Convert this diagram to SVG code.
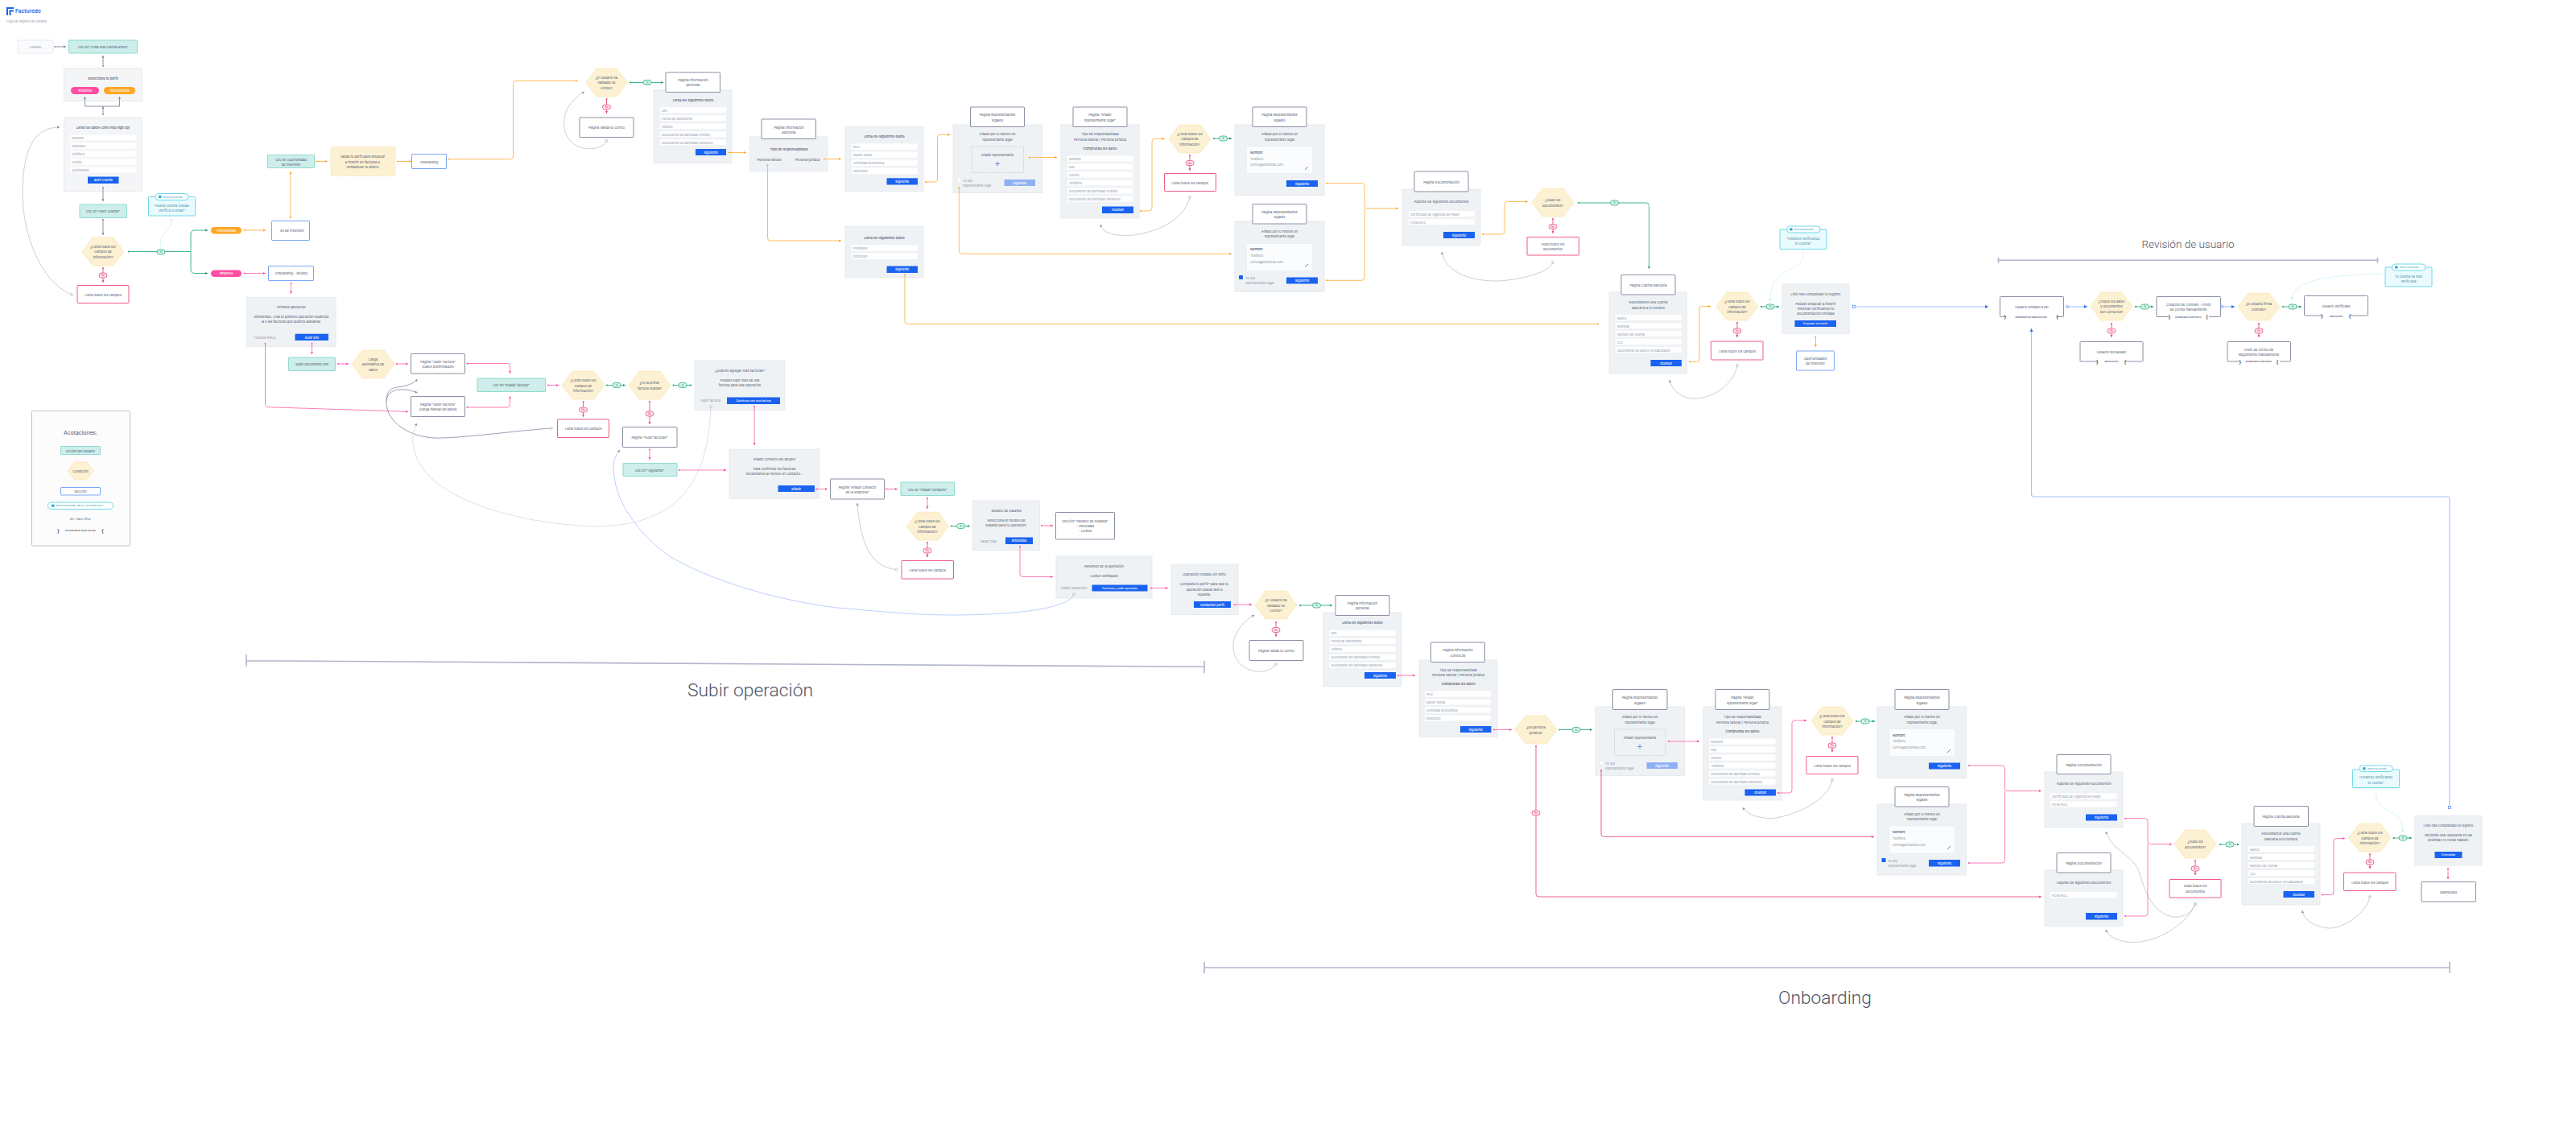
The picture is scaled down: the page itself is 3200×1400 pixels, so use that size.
<svg xmlns="http://www.w3.org/2000/svg" width="3200" height="1400" viewBox="0 0 3200 1400">
<style>
text{font-family:"Inter","Liberation Sans",sans-serif;font-size:4.1px;fill:#4c5369;text-anchor:middle;dominant-baseline:central}
.l{text-anchor:start}
.b{font-weight:500}
.f{text-anchor:start;fill:#8d93a5;font-size:3.9px}
.g{fill:#8d93a5}
.w{fill:#fff;font-size:3.9px;font-weight:500}
.st{font-size:2.7px;font-weight:600;fill:#4c5369}
.br{font-size:6px;font-weight:700;fill:#4c5369}
.big{font-family:"Roboto","Liberation Sans",sans-serif;font-weight:300;fill:#4c5369}
.s{font-size:2.7px;font-weight:600;fill:#3aa0b8;letter-spacing:.35px;text-anchor:start}
.nt{fill:#4a8a9c}
.py{font-size:3.4px;fill:#d8336b}
.pg{font-size:3.4px;fill:#1f9e6e}
.act{fill:#cdeeea;stroke:#8edbcf;stroke-width:1}
.hex{fill:#fdf1d3;stroke:#f9dc92;stroke-width:.7;stroke-dasharray:1.2 .8}
.pan{fill:#eff2f5;stroke:#e3e7ec;stroke-width:.8}
.dp{fill:#f4f5f7;stroke:#c6c9d0;stroke-width:.6;stroke-dasharray:1.4 1}
.in{fill:#fff;stroke:none}
.btn{fill:#1a63f0}
.dis{fill:#8fb0f4}
.sec{fill:#fff;stroke:#7aa5f5;stroke-width:1}
.pag{fill:#fff;stroke:#8b90a3;stroke-width:1}
.err{fill:#fff;stroke:#ee5a85;stroke-width:1}
.ntf{fill:#e9fbfe;stroke:#5fd5e8;stroke-width:.9}
.tag{fill:#fff;stroke:#5fd5e8;stroke-width:.9}
.ico{fill:#2fb3cf}
.dsh{fill:none;stroke:#b6bac6;stroke-width:.6;stroke-dasharray:1.6 1.2}
.card{fill:#fbfcfd;stroke:#e6e9ee;stroke-width:.5}
.gap{fill:#fff;stroke:none}
.cn{fill:none;stroke-linejoin:round}
.cg{stroke:#8b93a8;stroke-width:1;marker-start:url(#dg);marker-end:url(#ag)}
.cp{stroke:#ff6db0;stroke-width:.9;marker-start:url(#dp);marker-end:url(#ap)}
.co{stroke:#ffb347;stroke-width:.9;marker-start:url(#do);marker-end:url(#ao)}
.cv{stroke:#2eb07e;stroke-width:.9;marker-start:url(#dv);marker-end:url(#av)}
.cr{stroke:#e8507f;stroke-width:.9;marker-start:url(#dr);marker-end:url(#ar)}
.cb{stroke:#a9c4fb;stroke-width:1.2;marker-end:url(#ab)}
.cu{stroke:#a8aebf;stroke-width:.6;marker-start:url(#bu);marker-end:url(#ag)}
.cd{stroke:#8fe0ee;stroke-width:.6;stroke-dasharray:1.4 1;marker-end:url(#al)}
.pv{fill:#d8f5e8;stroke:#2eb07e;stroke-width:.8}
.pr{fill:#ffe6ef;stroke:#e8507f;stroke-width:.8}
.rule{fill:none;stroke:#b0b6ca;stroke-width:1.6}
</style>
<defs>
<marker id="dg" markerUnits="userSpaceOnUse" markerWidth="4" markerHeight="4" refX="2" refY="2"><circle cx="2" cy="2" r="1" fill="#8b93a8"/></marker>
<marker id="dp" markerUnits="userSpaceOnUse" markerWidth="4" markerHeight="4" refX="2" refY="2"><circle cx="2" cy="2" r="1" fill="#ff4fa3"/></marker>
<marker id="do" markerUnits="userSpaceOnUse" markerWidth="4" markerHeight="4" refX="2" refY="2"><circle cx="2" cy="2" r="1" fill="#ffa726"/></marker>
<marker id="dv" markerUnits="userSpaceOnUse" markerWidth="4" markerHeight="4" refX="2" refY="2"><circle cx="2" cy="2" r="1" fill="#1f9e6e"/></marker>
<marker id="dr" markerUnits="userSpaceOnUse" markerWidth="4" markerHeight="4" refX="2" refY="2"><circle cx="2" cy="2" r="1" fill="#e8507f"/></marker>
<marker id="bu" markerUnits="userSpaceOnUse" markerWidth="5" markerHeight="5" refX="2.5" refY="2.5"><circle cx="2.5" cy="2.5" r="1.4" fill="#fff" stroke="#8b93a8" stroke-width=".5"/></marker>
<marker id="ag" markerUnits="userSpaceOnUse" markerWidth="4" markerHeight="4" refX="3" refY="2" orient="auto"><path d="M0 .3L3 2L0 3.7Z" fill="#8b93a8"/></marker>
<marker id="ap" markerUnits="userSpaceOnUse" markerWidth="4" markerHeight="4" refX="3" refY="2" orient="auto"><path d="M0 .5L3 2L0 3.5Z" fill="#ff4fa3"/></marker>
<marker id="ao" markerUnits="userSpaceOnUse" markerWidth="4" markerHeight="4" refX="3" refY="2" orient="auto"><path d="M0 .5L3 2L0 3.5Z" fill="#ffa726"/></marker>
<marker id="av" markerUnits="userSpaceOnUse" markerWidth="4" markerHeight="4" refX="3" refY="2" orient="auto"><path d="M0 .5L3 2L0 3.5Z" fill="#1f9e6e"/></marker>
<marker id="ar" markerUnits="userSpaceOnUse" markerWidth="4" markerHeight="4" refX="3" refY="2" orient="auto"><path d="M0 .5L3 2L0 3.5Z" fill="#e8507f"/></marker>
<marker id="ab" markerUnits="userSpaceOnUse" markerWidth="5" markerHeight="5" refX="4" refY="2.5" orient="auto"><path d="M0 .5L4 2.5L0 4.5Z" fill="#2f6ff2"/></marker>
<marker id="al" markerUnits="userSpaceOnUse" markerWidth="4" markerHeight="4" refX="3" refY="2" orient="auto"><path d="M0 .5L3 2L0 3.5Z" fill="none" stroke="#8fe0ee" stroke-width=".4"/></marker>
</defs>
<rect width="3200" height="1400" fill="#fff"/>

<g id="cabecera">
<path d="M8 9H17V11H10V19H8ZM11.500 12.500H17V14.500H13.500V19H11.500Z" fill="#1a63f0"/>
<text x="19" y="14.300" class="l b" style="font-size:6.500px;fill:#1a63f0;font-weight:600">Facturedo</text>
<text x="8" y="26.300" class="l g" style="font-size:3.900px">Flujo de registro de usuario</text>
</g>

<g id="usuario"><rect x="22" y="50" width="44" height="16" rx="1" fill="#fafbfd" stroke="#e8eaf2"/><text x="44" y="58" class="g">Usuario</text></g>
<g id="clic-crear"><rect x="85.500" y="50" width="85" height="16" rx=".6" class="act"/><text x="128" y="58.300">Clic en "Crea una cuenta ahora"</text></g>
<g id="perfil"><rect x="79.500" y="85" width="97" height="40.500" rx=".6" class="dp"/><text x="128" y="97" class="b">Selecciona tu perfil</text>
<rect x="88" y="108" width="35" height="9" rx="4.500" fill="#ff4fa3"/><text x="105.500" y="112.800" class="w">Empresa</text>
<rect x="129" y="108" width="39" height="9" rx="4.500" fill="#ffa726"/><text x="148.500" y="112.800" class="w">Inversionista</text></g>
<g id="datos"><rect x="79.500" y="146" width="97" height="91.500" rx=".6" class="dp"/><text x="128" y="158.500" class="b">Llena tus datos (One step sign up)</text>
<rect x="87" y="167.500" width="82" height="7" class="in"/><text x="89" y="171.200" class="f">Nombre</text>
<rect x="87" y="177.500" width="82" height="7" class="in"/><text x="89" y="181.200" class="f">Apellidos</text>
<rect x="87" y="187.500" width="82" height="7" class="in"/><text x="89" y="191.200" class="f">Teléfono</text>
<rect x="87" y="197.500" width="82" height="7" class="in"/><text x="89" y="201.200" class="f">Correo</text>
<rect x="87" y="207.500" width="82" height="7" class="in"/><text x="89" y="211.200" class="f">Contraseña</text>
<rect x="109" y="219.500" width="38.500" height="8.500" class="btn"/><text x="128.300" y="223.800" class="w">Abrir cuenta</text></g>
<g id="clic-abrir"><rect x="99" y="254" width="58.500" height="16.500" rx=".6" class="act"/><text x="128" y="262.300">Clic en "Abrir cuenta"</text></g>
<g id="h-campos1"><path d="M102 312.500L115 295H141L154 312.500L141 330H115Z" class="hex"/><text x="128" y="306.300">¿Llena todos los</text><text x="128" y="312.800">campos de</text><text x="128" y="319.300">información?</text></g>
<g id="e-campos1"><rect x="96" y="354.500" width="64" height="22" rx=".6" class="err"/><text x="128" y="366">Llena todos los campos</text></g>
<g id="n-nueva"><rect x="184.500" y="244.500" width="58" height="23.500" rx="1" class="ntf"/><rect x="193" y="240.500" width="41" height="8" rx="4" class="tag"/><rect x="197" y="242.800" width="3.600" height="3.200" class="ico"/><text x="203" y="244.500" class="s">NOTIFICACIÓN</text><text x="213.500" y="255" class="nt">"Nueva cuenta creada.</text><text x="213.500" y="261.500" class="nt">Verifica tu email"</text></g>
<g id="p-inv"><rect x="262" y="282" width="38" height="8.500" rx="4.200" fill="#ffa726"/><text x="281" y="286.300" class="w">Inversionista</text></g>
<g id="p-emp"><rect x="262" y="335.500" width="38" height="8.500" rx="4.200" fill="#ff4fa3"/><text x="281" y="339.800" class="w">Empresa</text></g>
<g id="s-inv"><rect x="337.500" y="274.500" width="47" height="24" rx=".6" class="sec"/><text x="363" y="286.300">es de inversión</text></g>
<g id="clic-op"><rect x="332.500" y="192.500" width="58" height="16" rx=".6" class="act"/><text x="361.500" y="198">Clic en Oportunidad</text><text x="361.500" y="204">de inversión</text></g>
<g id="valida"><rect x="411" y="182.500" width="80" height="36" rx="1" fill="#fdf1d3" stroke="#f9dc92" stroke-width=".7" stroke-dasharray="1.200 .8"/><text x="450.500" y="194.500">Valida tu perfil para empezar</text><text x="450.500" y="201">a invertir en facturas y</text><text x="450.500" y="207.500">rentabilizar tu dinero</text></g>
<g id="s-onb"><rect x="511.500" y="191.500" width="43" height="18" rx=".6" class="sec"/><text x="533" y="201">Onboarding</text></g>
<g id="s-wiz"><rect x="333.500" y="330.500" width="56" height="18" rx=".6" class="sec"/><text x="361.500" y="339.800">Onboarding - Wizard</text></g>
<g id="primera"><rect x="306.500" y="369.500" width="110.500" height="61" class="pan"/><text x="362" y="381">Primera operación</text><text x="362" y="393">Bienvenido, crea tu primera operación subiendo</text><text x="362" y="399.300">la o las facturas que quieres adelantar.</text><text x="329" y="419" class="g">Factura física</text><rect x="366.500" y="414.700" width="41.500" height="8.300" class="btn"/><text x="387.300" y="419" class="w">Subir xml</text></g>
<g id="clic-xml"><rect x="358.500" y="444" width="58" height="16.500" rx=".6" class="act"/><text x="387.500" y="452.300">Subir documento xml</text></g>
<g id="h-carga"><path d="M437 452L450 435H477L490 452L477 470H450Z" class="hex"/><text x="463.500" y="446.300">Carga</text><text x="463.500" y="452.800">automática de</text><text x="463.500" y="459">datos</text></g>

<g id="acotaciones"><rect x="39.500" y="510.500" width="122" height="167.500" rx="1" fill="#fcfcfc" stroke="#c0c2c8"/><text x="100" y="537" style="font-size:6.800px">Acotaciones:</text>
<rect x="75.500" y="554.500" width="49" height="10" rx=".6" class="act"/><text x="100" y="560">Acción del usuario</text>
<path d="M84 585L92 574H108L116.500 585L108 595.500H92Z" class="hex"/><text x="100" y="585">Condición</text>
<rect x="75.500" y="605.500" width="49" height="9.500" rx=".6" class="sec"/><text x="100" y="610.500">Sección</text>
<rect x="59.500" y="624" width="81" height="8.500" rx="4.200" class="tag"/><rect x="64" y="626.600" width="3.600" height="3.200" class="ico"/><text x="69.500" y="628.400" class="s">NOTIFICACIÓN / MAIL AUTOMÁTICO</text>
<text x="100" y="644.500" style="font-size:3.200px">BO = Back Office</text>
<text x="72.500" y="659" class="br">}</text><text x="100" y="659" class="st">ESTADO EN EL BACK OFFICE</text><text x="127.500" y="659" class="br">{</text></g>

<g id="h-validado1"><path d="M727.500 102.500L741 85H766L779.500 102.500L766 120H741Z" class="hex"/><text x="753.500" y="96">¿El usuario ha</text><text x="753.500" y="102.500">validado su</text><text x="753.500" y="109">correo?</text></g>
<g id="pg-valida1"><rect x="720" y="146" width="67" height="24.500" rx=".6" class="pag"/><text x="753.500" y="158.500">Página Valida tu correo</text></g>
<g id="pan-personal1"><rect x="812" y="112" width="97" height="90.500" class="pan"/><text x="861" y="124" class="b">Llena los siguientes datos</text>
<rect x="820" y="133.300" width="82" height="7" class="in"/><text x="822" y="137" class="f">DNI</text>
<rect x="820" y="143.300" width="82" height="7" class="in"/><text x="822" y="147" class="f">Fecha de nacimiento</text>
<rect x="820" y="153.300" width="82" height="7" class="in"/><text x="822" y="157" class="f">Género</text>
<rect x="820" y="163.300" width="82" height="7" class="in"/><text x="822" y="167" class="f">Documento de identidad (Frente)</text>
<rect x="820" y="173.300" width="82" height="7" class="in"/><text x="822" y="177" class="f">Documento de identidad (Reverso)</text>
<rect x="864" y="185" width="38" height="8" class="btn"/><text x="883" y="189" class="w">Siguiente</text>
<rect x="827" y="90" width="67.500" height="24.500" rx=".6" class="pag"/><text x="861" y="99">Página Información</text><text x="861" y="105.500">personal</text></g>
<g id="pan-adicional"><rect x="931.500" y="170" width="96.500" height="42.500" class="pan"/><text x="980" y="185" class="b">Tipo de responsabilidad</text><text x="955.500" y="198">Persona natural</text><text x="1003" y="198">Persona jurídica</text>
<rect x="946" y="148" width="67.500" height="24.500" rx=".6" class="pag"/><text x="980" y="158">Página Información</text><text x="980" y="164.500">adicional</text></g>
<g id="pan-ruc1"><rect x="1050" y="157.500" width="97" height="80" class="pan"/><text x="1098.500" y="169" class="b">Llena los siguientes datos</text>
<rect x="1058" y="178.500" width="82" height="7.500" class="in"/><text x="1060" y="182.300" class="f">RUC</text>
<rect x="1058" y="188.500" width="82" height="7.500" class="in"/><text x="1060" y="192.300" class="f">Razón social</text>
<rect x="1058" y="198.500" width="82" height="7.500" class="in"/><text x="1060" y="202.300" class="f">Actividad económica</text>
<rect x="1058" y="208.500" width="82" height="7.500" class="in"/><text x="1060" y="212.200" class="f">Dirección</text>
<rect x="1101.500" y="221.300" width="38.500" height="8.200" class="btn"/><text x="1120.700" y="225.500" class="w">Siguiente</text></g>
<g id="pan-prof"><rect x="1050" y="281.500" width="97" height="63" class="pan"/><text x="1098.500" y="295.500" class="b">Llena los siguientes datos</text>
<rect x="1058" y="304.300" width="82" height="7.500" class="in"/><text x="1060" y="308" class="f">Profesión</text>
<rect x="1058" y="314.300" width="82" height="7.500" class="in"/><text x="1060" y="318" class="f">Dirección</text>
<rect x="1101.500" y="330.500" width="38.500" height="8.500" class="btn"/><text x="1120.700" y="334.700" class="w">Siguiente</text></g>
<g id="pan-rep1"><rect x="1184" y="155" width="110.500" height="84.500" class="pan"/><text x="1239" y="166.500">Añade por lo menos un</text><text x="1239" y="173">representante legal</text>
<rect x="1207" y="182" width="64.500" height="32.500" class="dsh"/><text x="1239" y="192.500">Añadir representante</text><path d="M1239 200.500v6M1236 203.500h6" stroke="#2f6ff2" stroke-width=".7" fill="none"/>
<rect x="1189" y="221.500" width="4.500" height="4.500" rx=".4" fill="#fff" stroke="#dde1e7" stroke-width=".4"/><text x="1196" y="224" class="f">Yo soy</text><text x="1196" y="230.500" class="f">representante legal</text>
<rect x="1247.500" y="223" width="38.500" height="8" class="dis"/><text x="1266.700" y="227" class="w">Siguiente</text>
<rect x="1205.500" y="133" width="67" height="24.500" rx=".6" class="pag"/><text x="1239" y="142.500">Página Representantes</text><text x="1239" y="149">legales</text></g>
<g id="pan-anadir1"><rect x="1318" y="155" width="97" height="116" class="pan"/><text x="1366.500" y="166.500">Tipo de responsabilidad</text><text x="1366.500" y="173">Persona natural | Persona jurídica</text><text x="1366.500" y="184.500" class="b">Comprueba los datos</text>
<rect x="1326" y="193.500" width="81.500" height="7" class="in"/><text x="1328" y="197.300" class="f">Nombre</text>
<rect x="1326" y="203.500" width="81.500" height="7" class="in"/><text x="1328" y="207.300" class="f">DNI</text>
<rect x="1326" y="213.500" width="81.500" height="7" class="in"/><text x="1328" y="217.300" class="f">Correo</text>
<rect x="1326" y="223.500" width="81.500" height="7" class="in"/><text x="1328" y="227.300" class="f">Teléfono</text>
<rect x="1326" y="233.500" width="81.500" height="7" class="in"/><text x="1328" y="237.300" class="f">Documento de identidad (Frente)</text>
<rect x="1326" y="243.500" width="81.500" height="7" class="in"/><text x="1328" y="247.300" class="f">Documento de identidad (Reverso)</text>
<rect x="1369" y="256.500" width="39" height="8.500" class="btn"/><text x="1388.500" y="260.700" class="w">Guardar</text>
<rect x="1333" y="133" width="67" height="24.500" rx=".6" class="pag"/><text x="1366.500" y="142.500">Página "Añadir</text><text x="1366.500" y="149">representante legal"</text></g>
<g id="h-campos2"><path d="M1452 172.500L1465 155H1491L1504 172.500L1491 190H1465Z" class="hex"/><text x="1478" y="166">¿Llena todos los</text><text x="1478" y="172.500">campos de</text><text x="1478" y="179">información?</text></g>
<g id="e-campos2"><rect x="1446.500" y="215.500" width="64" height="22" rx=".6" class="err"/><text x="1478" y="227">Llena todos los campos</text></g>
<g id="pan-repA1"><rect x="1534" y="155" width="111" height="87.500" class="pan"/><text x="1589.500" y="166.500">Añade por lo menos un</text><text x="1589.500" y="173">representante legal</text>
<rect x="1548.500" y="182" width="82" height="33.500" class="card"/><text x="1553" y="189" class="l b">Nombre</text><text x="1553" y="197" class="f">Teléfono</text><text x="1553" y="204.500" class="f">correo@empresa.com</text><path d="M1621 211L1625 207" stroke="#6d7488" stroke-width=".9"/>
<rect x="1598" y="224" width="39" height="8" class="btn"/><text x="1617.500" y="228" class="w">Siguiente</text>
<rect x="1556" y="133" width="67" height="24.500" rx=".6" class="pag"/><text x="1589.500" y="142.500">Página Representantes</text><text x="1589.500" y="149">legales</text></g>
<g id="pan-repB1"><rect x="1534" y="275" width="111" height="87.500" class="pan"/><text x="1589.500" y="287.500">Añade por lo menos un</text><text x="1589.500" y="293.500">representante legal</text>
<rect x="1548.500" y="302.500" width="82" height="33.500" class="card"/><text x="1553" y="309.500" class="l b">Nombre</text><text x="1553" y="317.500" class="f">Teléfono</text><text x="1553" y="325" class="f">correo@empresa.com</text><path d="M1621 332L1625 328" stroke="#6d7488" stroke-width=".9"/>
<rect x="1539" y="342" width="5" height="5" rx=".4" fill="#1a63f0"/><text x="1547" y="345" class="f">Yo soy</text><text x="1547" y="351.500" class="f">representante legal</text>
<rect x="1598" y="344.500" width="39" height="8" class="btn"/><text x="1617.500" y="348.500" class="w">Siguiente</text>
<rect x="1556" y="253.500" width="67" height="24.500" rx=".6" class="pag"/><text x="1589.500" y="263">Página Representantes</text><text x="1589.500" y="269.500">legales</text></g>
<g id="pan-doc1"><rect x="1742" y="235" width="97" height="69.500" class="pan"/><text x="1790.500" y="250">Adjunta los siguientes documentos</text>
<rect x="1750" y="262.200" width="81.500" height="7" class="in"/><text x="1752" y="266" class="f">Certificado de Vigencia de Poder</text>
<rect x="1750" y="272.200" width="81.500" height="7" class="in"/><text x="1752" y="276" class="f">Ficha RUC</text>
<rect x="1793" y="288" width="39" height="8" class="btn"/><text x="1812.500" y="292" class="w">Siguiente</text>
<rect x="1757" y="213" width="67" height="25" rx=".6" class="pag"/><text x="1790.500" y="226">Página Documentación</text></g>
<g id="h-sube1"><path d="M1903 251.500L1916 234H1942L1955 251.500L1942 269H1916Z" class="hex"/><text x="1929" y="248">¿Sube los</text><text x="1929" y="255">documentos?</text></g>
<g id="e-sube1"><rect x="1897" y="294.500" width="64.500" height="22.500" rx=".6" class="err"/><text x="1929" y="303">Sube todos los</text><text x="1929" y="309.500">documentos</text></g>
<g id="pan-banco1"><rect x="1999" y="363" width="96.500" height="100.500" class="pan"/><text x="2047.500" y="375.500">Necesitamos una cuenta</text><text x="2047.500" y="382">bancaria a tu nombre</text>
<rect x="2007" y="391" width="82" height="7" class="in"/><text x="2009" y="395" class="f">Banco</text>
<rect x="2007" y="401" width="82" height="7" class="in"/><text x="2009" y="405" class="f">Moneda</text>
<rect x="2007" y="411" width="82" height="7" class="in"/><text x="2009" y="415" class="f">Número de cuenta</text>
<rect x="2007" y="421" width="82" height="7" class="in"/><text x="2009" y="425" class="f">CCI</text>
<rect x="2007" y="431" width="82" height="7" class="in"/><text x="2009" y="435" class="f">Documento de banco (Encabezado)</text>
<rect x="2050.500" y="447" width="38.500" height="8" class="btn"/><text x="2069.700" y="451" class="w">Guardar</text>
<rect x="2014" y="341.500" width="67" height="24.500" rx=".6" class="pag"/><text x="2047.500" y="354.300">Página Cuenta bancaria</text></g>
<g id="h-campos3"><path d="M2132 380.500L2145 363H2171L2184 380.500L2171 398H2145Z" class="hex"/><text x="2158" y="374.500">¿Llena todos los</text><text x="2158" y="381">campos de</text><text x="2158" y="387.500">información?</text></g>
<g id="e-campos3"><rect x="2125.500" y="424" width="64.500" height="23" rx=".6" class="err"/><text x="2158" y="436">Llena todos los campos</text></g>
<g id="n-verif1"><rect x="2211" y="285" width="58" height="24.500" rx="1" class="ntf"/><rect x="2219.500" y="281" width="41.500" height="8" rx="4" class="tag"/><rect x="2223" y="283.300" width="3.600" height="3.200" class="ico"/><text x="2229" y="285" class="s">NOTIFICACIÓN</text><text x="2240" y="296" class="nt">"Estamos verificando</text><text x="2240" y="302.500" class="nt">tu cuenta"</text></g>
<g id="pan-listo1"><rect x="2214" y="353" width="83" height="61.500" class="pan"/><text x="2255.500" y="365">Listo has completado tu registro</text><text x="2255.500" y="377">Puedes empezar a invertir</text><text x="2255.500" y="383">mientras verificamos tu</text><text x="2255.500" y="389.500">documentación enviada</text><rect x="2229.500" y="398" width="51.500" height="8" class="btn"/><text x="2255.200" y="402" class="w" style="font-size:3.500px">Empezar a invertir</text></g>
<g id="s-oport"><rect x="2231.500" y="436" width="47" height="24" rx=".6" class="sec"/><text x="2255" y="445">Oportunidades</text><text x="2255" y="451.500">de inversión</text></g>

<g id="rev-enviado"><rect x="2484.500" y="368.500" width="79" height="25" rx=".8" class="pag"/><rect x="2492" y="390" width="63" height="6" class="gap"/><text x="2524" y="381">Usuario enviado a BD</text><text x="2491" y="393.500" class="br">}</text><text x="2523" y="393.500" class="st">PENDIENTE DE VERIFICACIÓN</text><text x="2555.500" y="393.500" class="br">{</text></g>
<g id="h-todos"><path d="M2597 380.500L2610 363H2636L2649 380.500L2636 398H2610Z" class="hex"/><text x="2623" y="374">¿Todos los datos</text><text x="2623" y="380.500">y documentos</text><text x="2623" y="387">son correctos?</text></g>
<g id="rev-contrato"><rect x="2679" y="368.500" width="79.500" height="25" rx=".8" class="pag"/><rect x="2694" y="390" width="50" height="6" class="gap"/><text x="2718.500" y="378.500">Creación de contrato - Envió</text><text x="2718.500" y="384.300">de correo manualmente</text><text x="2695" y="393.500" class="br">}</text><text x="2718.500" y="393.500" class="st">ESPERANDO CONTRATO</text><text x="2741.500" y="393.500" class="br">{</text></g>
<g id="h-firma"><path d="M2780 381L2793 364H2819L2832 381L2819 398H2793Z" class="hex"/><text x="2806" y="377.500">¿El usuario firma</text><text x="2806" y="384.500">contrato?</text></g>
<g id="rev-verificado"><rect x="2862.500" y="367.500" width="79" height="24.500" rx=".8" class="pag"/><rect x="2885" y="389" width="34" height="6" class="gap"/><text x="2902" y="380">Usuario verificado</text><text x="2884.500" y="392.500" class="br">}</text><text x="2902" y="392.500" class="st">VERIFICADO</text><text x="2919" y="392.500" class="br">{</text></g>
<g id="rev-rechazado"><rect x="2584" y="424.500" width="78" height="24.500" rx=".8" class="pag"/><rect x="2606" y="446" width="34" height="6" class="gap"/><text x="2623" y="437">Usuario rechazado</text><text x="2605.500" y="449" class="br">}</text><text x="2623" y="449" class="st">RECHAZADO</text><text x="2640" y="449" class="br">{</text></g>
<g id="rev-seguimiento"><rect x="2767" y="424.500" width="78.500" height="24.500" rx=".8" class="pag"/><rect x="2782" y="446" width="50" height="6" class="gap"/><text x="2806" y="434">Envió de correo de</text><text x="2806" y="440">seguimiento manualmente</text><text x="2783" y="449" class="br">}</text><text x="2806" y="449" class="st">ESPERANDO CONTRATO</text><text x="2829" y="449" class="br">{</text></g>
<g id="n-verificado"><rect x="2963" y="332" width="58" height="24" rx="1" class="ntf"/><rect x="2971.500" y="328" width="41.500" height="8" rx="4" class="tag"/><rect x="2975" y="330.300" width="3.600" height="3.200" class="ico"/><text x="2981" y="332" class="s">NOTIFICACIÓN</text><text x="2992" y="343" class="nt">Tu cuenta ha sido</text><text x="2992" y="349" class="nt">verificada</text></g>

<g id="pg-fact1"><rect x="510.500" y="439.500" width="67" height="24.500" rx=".6" class="pag"/><text x="544" y="449.500">Página "Subir Factura"</text><text x="544" y="455.500">(Datos preliminados)</text></g>
<g id="pg-fact2"><rect x="510.500" y="492.500" width="67" height="25" rx=".6" class="pag"/><text x="544" y="502">Página "Subir Factura"</text><text x="544" y="508.500">(Carga manual de datos)</text></g>
<g id="clic-factura"><rect x="593" y="470" width="84.500" height="16.500" rx=".6" class="act"/><text x="635" y="478.500">Clic en "Añadir factura"</text></g>
<g id="h-campos4"><path d="M698 478.500L711 461H738L751 478.500L738 496H711Z" class="hex"/><text x="724.500" y="472.300">¿Llena todos los</text><text x="724.500" y="479">campos de</text><text x="724.500" y="485.500">información?</text></g>
<g id="e-campos4"><rect x="692.500" y="521" width="64" height="22.500" rx=".6" class="err"/><text x="724.500" y="532.500">Llena todos los campos</text></g>
<g id="h-primer"><path d="M781 478.500L794 461H820L833 478.500L820 496H794Z" class="hex"/><text x="807" y="475.300">¿Es la primer</text><text x="807" y="482">factura subida?</text></g>
<g id="pg-facts"><rect x="773.500" y="530.500" width="67.500" height="25" rx=".6" class="pag"/><text x="807" y="543.300">Página "Subir facturas"</text></g>
<g id="clic-sig"><rect x="774" y="575.500" width="67" height="16" rx=".6" class="act"/><text x="807" y="584">Clic en "Siguiente"</text></g>
<g id="pan-mas"><rect x="863" y="448" width="112" height="61.500" class="pan"/><text x="919" y="460">¿Quieres agregar más facturas?</text><text x="919" y="472">Puedes subir más de una</text><text x="919" y="478">factura para una operación</text><text x="882.500" y="497.500" class="g">Subir factura</text><rect x="903" y="493.500" width="66" height="8.500" class="btn"/><text x="936" y="497.800" class="w" style="font-size:3.500px">Continuar con una factura</text></g>
<g id="pan-contacto"><rect x="906" y="558" width="111.500" height="61.500" class="pan"/><text x="962" y="570">Añadir contacto del deudor</text><text x="962" y="582">Para confirmar tus facturas</text><text x="962" y="588">necesitamos al menos un contacto...</text><rect x="966.500" y="603" width="45.500" height="8" class="btn"/><text x="989" y="607" class="w">Añadir</text></g>
<g id="pg-contacto"><rect x="1031.500" y="595" width="67" height="25" rx=".6" class="pag"/><text x="1065" y="605">Página "Añadir contacto</text><text x="1065" y="611">de la empresa"</text></g>
<g id="clic-contacto"><rect x="1119" y="599" width="66.500" height="16.500" rx=".6" class="act"/><text x="1152" y="608">Clic en "Añadir contacto"</text></g>
<g id="h-campos5"><path d="M1126.500 653.500L1139.500 636H1165.500L1178.500 653.500L1165.500 671H1139.500Z" class="hex"/><text x="1152" y="647.500">¿Llena todos los</text><text x="1152" y="654">campos de</text><text x="1152" y="660.300">información?</text></g>
<g id="e-campos5"><rect x="1120" y="696.500" width="64.500" height="22.500" rx=".6" class="err"/><text x="1152" y="708">Llena todos los campos</text></g>
<g id="pan-modelo"><rect x="1208.500" y="622" width="83" height="61.500" class="pan"/><text x="1250" y="634">Modelo de subasta</text><text x="1250" y="646">Selecciona el modelo de</text><text x="1250" y="652.300">subasta para tu operación.</text><text x="1228" y="672" class="g">Saber más</text><rect x="1249" y="667.500" width="34" height="8.500" class="btn"/><text x="1266" y="671.800" class="w">Entendido</text></g>
<g id="s-modelo"><rect x="1311.500" y="636.500" width="73" height="33.500" rx=".8" class="pag"/><text x="1348" y="647">Sección "Modelo de subasta"</text><text x="1348" y="653.500">- Velocidad</text><text x="1348" y="659.500">- Costos</text></g>
<g id="pan-resumen"><rect x="1312" y="691" width="119" height="52" class="pan"/><text x="1371.500" y="703">Resumen de la operación</text><text x="1371.500" y="715">Costos estimados</text><text x="1334" y="730.500" class="g">Editar operación</text><rect x="1356.500" y="726.500" width="69" height="8" class="btn"/><text x="1391" y="730.500" class="w" style="font-size:3.300px">Confirmar y subir operación</text></g>
<g id="pan-exito"><rect x="1455" y="701" width="83" height="62.500" class="pan"/><text x="1496" y="713.500">Operación creada con éxito</text><text x="1496" y="725.500">Completa tu perfil" para que tu</text><text x="1496" y="732">operación pueda salir a</text><text x="1496" y="738">subasta.</text><rect x="1483" y="747" width="46" height="8" class="btn"/><text x="1506" y="751" class="w">Completar perfil</text></g>
<g id="h-validado2"><path d="M1559 751.500L1572 734H1598L1611 751.500L1598 769H1572Z" class="hex"/><text x="1585" y="745.500">¿El usuario ha</text><text x="1585" y="752">validado su</text><text x="1585" y="758.500">correo?</text></g>
<g id="pg-valida2"><rect x="1552" y="795.500" width="67" height="25" rx=".6" class="pag"/><text x="1585.500" y="808.300">Página Valida tu correo</text></g>
<g id="pan-personal2"><rect x="1644" y="761" width="97" height="91.500" class="pan"/><text x="1692.500" y="773" class="b">Llena los siguientes datos</text>
<rect x="1651.500" y="782.800" width="82" height="7" class="in"/><text x="1653.500" y="786.500" class="f">DNI</text>
<rect x="1651.500" y="792.800" width="82" height="7" class="in"/><text x="1653.500" y="796.500" class="f">Fecha de nacimiento</text>
<rect x="1651.500" y="802.800" width="82" height="7" class="in"/><text x="1653.500" y="806.500" class="f">Género</text>
<rect x="1651.500" y="812.800" width="82" height="7" class="in"/><text x="1653.500" y="816.500" class="f">Documento de identidad (Frente)</text>
<rect x="1651.500" y="822.800" width="82" height="7" class="in"/><text x="1653.500" y="826.500" class="f">Documento de identidad (Reverso)</text>
<rect x="1695" y="835" width="39" height="8" class="btn"/><text x="1714.500" y="839" class="w">Siguiente</text>
<rect x="1659" y="739.500" width="67" height="25" rx=".6" class="pag"/><text x="1692.500" y="749">Página Información</text><text x="1692.500" y="755.300">personal</text></g>
<g id="pan-comercial"><rect x="1763" y="820" width="97" height="95.500" class="pan"/><text x="1811.500" y="832">Tipo de responsabilidad</text><text x="1811.500" y="838.300">Persona natural | Persona jurídica</text><text x="1811.500" y="849.300" class="b">Comprueba los datos</text>
<rect x="1770" y="858.500" width="82" height="7" class="in"/><text x="1772" y="862.300" class="f">RUC</text>
<rect x="1770" y="868.500" width="82" height="7" class="in"/><text x="1772" y="872.300" class="f">Razón social</text>
<rect x="1770" y="878.500" width="82" height="7" class="in"/><text x="1772" y="882.300" class="f">Actividad económica</text>
<rect x="1770" y="888.500" width="82" height="7" class="in"/><text x="1772" y="892.300" class="f">Dirección</text>
<rect x="1814" y="902" width="38.500" height="8" class="btn"/><text x="1833.300" y="906" class="w">Siguiente</text>
<rect x="1777.500" y="798" width="67" height="24.500" rx=".6" class="pag"/><text x="1811" y="807.500">Página Información</text><text x="1811" y="814">comercial</text></g>
<g id="h-juridica"><path d="M1882 906.500L1895 889H1921L1934 906.500L1921 924H1895Z" class="hex"/><text x="1908" y="903.300">¿Es persona</text><text x="1908" y="910">jurídica?</text></g>
<g id="pan-rep2"><rect x="1982" y="878" width="110.500" height="85.500" class="pan"/><text x="2037" y="890.500">Añade por lo menos un</text><text x="2037" y="897">representante legal</text>
<rect x="2005.500" y="906" width="63.500" height="32.500" class="dsh"/><text x="2037" y="916.500">Añadir representante</text><path d="M2037 924.500v6M2034 927.500h6" stroke="#2f6ff2" stroke-width=".7" fill="none"/>
<rect x="1987" y="945.500" width="4.500" height="4.500" rx=".4" fill="#fff" stroke="#dde1e7" stroke-width=".4"/><text x="1994" y="948" class="f">Yo soy</text><text x="1994" y="954.500" class="f">representante legal</text>
<rect x="2045.500" y="947" width="38.500" height="8" class="dis"/><text x="2064.700" y="951" class="w">Siguiente</text>
<rect x="2003.500" y="856.500" width="67.500" height="25" rx=".6" class="pag"/><text x="2037" y="866.300">Página Representantes</text><text x="2037" y="873">legales</text></g>
<g id="pan-anadir2"><rect x="2116" y="878" width="97" height="116" class="pan"/><text x="2164.500" y="890.500">Tipo de responsabilidad</text><text x="2164.500" y="897">Persona natural | Persona jurídica</text><text x="2164.500" y="908.300" class="b">Comprueba los datos</text>
<rect x="2123.500" y="917.500" width="82" height="7" class="in"/><text x="2125.500" y="921.300" class="f">Nombre</text>
<rect x="2123.500" y="927.500" width="82" height="7" class="in"/><text x="2125.500" y="931.300" class="f">DNI</text>
<rect x="2123.500" y="937.500" width="82" height="7" class="in"/><text x="2125.500" y="941.300" class="f">Correo</text>
<rect x="2123.500" y="947.500" width="82" height="7" class="in"/><text x="2125.500" y="951.300" class="f">Teléfono</text>
<rect x="2123.500" y="957.500" width="82" height="7" class="in"/><text x="2125.500" y="961.300" class="f">Documento de identidad (Frente)</text>
<rect x="2123.500" y="967.500" width="82" height="7" class="in"/><text x="2125.500" y="971.300" class="f">Documento de identidad (Reverso)</text>
<rect x="2167.500" y="980.500" width="38.500" height="8" class="btn"/><text x="2186.700" y="984.500" class="w">Guardar</text>
<rect x="2131" y="856.500" width="67" height="25" rx=".6" class="pag"/><text x="2164.500" y="866.300">Página "Añadir</text><text x="2164.500" y="873">representante legal"</text></g>
<g id="h-campos6"><path d="M2250 895.500L2263 878H2289L2302 895.500L2289 913H2263Z" class="hex"/><text x="2276" y="889.500">¿Llena todos los</text><text x="2276" y="896">campos de</text><text x="2276" y="902.300">información?</text></g>
<g id="e-campos6"><rect x="2244" y="939.500" width="64" height="22" rx=".6" class="err"/><text x="2276" y="951">Llena todos los campos</text></g>
<g id="pan-repA2"><rect x="2332" y="878" width="110.500" height="88.500" class="pan"/><text x="2387.500" y="890.500">Añade por lo menos un</text><text x="2387.500" y="897">representante legal</text>
<rect x="2347" y="905.500" width="81.500" height="34" class="card"/><text x="2351" y="913" class="l b">Nombre</text><text x="2351" y="920.500" class="f">Teléfono</text><text x="2351" y="928.500" class="f">correo@empresa.com</text><path d="M2419 935L2423 931" stroke="#6d7488" stroke-width=".9"/>
<rect x="2396" y="947.500" width="39" height="8" class="btn"/><text x="2415.500" y="951.500" class="w">Siguiente</text>
<rect x="2354" y="856.500" width="67" height="25" rx=".6" class="pag"/><text x="2387.500" y="866.300">Página Representantes</text><text x="2387.500" y="873">legales</text></g>
<g id="pan-repB2"><rect x="2332" y="999" width="110.500" height="88" class="pan"/><text x="2387.500" y="1011">Añade por lo menos un</text><text x="2387.500" y="1017.500">representante legal</text>
<rect x="2347" y="1026" width="81.500" height="34" class="card"/><text x="2351" y="1033.500" class="l b">Nombre</text><text x="2351" y="1041" class="f">Teléfono</text><text x="2351" y="1049" class="f">correo@empresa.com</text><path d="M2419 1055L2423 1051" stroke="#6d7488" stroke-width=".9"/>
<rect x="2337.500" y="1066" width="5" height="5" rx=".4" fill="#1a63f0"/><text x="2345" y="1069" class="f">Yo soy</text><text x="2345" y="1075.500" class="f">representante legal</text>
<rect x="2396" y="1068" width="39" height="8.500" class="btn"/><text x="2415.500" y="1072.200" class="w">Siguiente</text>
<rect x="2354" y="977.500" width="67" height="24.500" rx=".6" class="pag"/><text x="2387.500" y="987">Página Representantes</text><text x="2387.500" y="993.500">legales</text></g>
<g id="pan-doc2"><rect x="2540" y="959" width="97" height="69" class="pan"/><text x="2588.500" y="973.500">Adjunta los siguientes documentos</text>
<rect x="2547" y="985.500" width="82.500" height="7" class="in"/><text x="2549" y="989.500" class="f">Certificado de Vigencia de Poder</text>
<rect x="2547" y="995.500" width="82.500" height="7" class="in"/><text x="2549" y="999.500" class="f">Ficha RUC</text>
<rect x="2591" y="1011.500" width="39" height="8" class="btn"/><text x="2610.500" y="1015.500" class="w">Siguiente</text>
<rect x="2555" y="937.500" width="67" height="24" rx=".6" class="pag"/><text x="2588.500" y="950">Página Documentación</text></g>
<g id="pan-doc3"><rect x="2540" y="1081" width="97" height="69.500" class="pan"/><text x="2588.500" y="1096">Adjunta los siguientes documentos</text>
<rect x="2547" y="1108" width="82.500" height="7.500" class="in"/><text x="2549" y="1112" class="f">Ficha RUC</text>
<rect x="2591" y="1134" width="39" height="8.500" class="btn"/><text x="2610.500" y="1138.200" class="w">Siguiente</text>
<rect x="2555" y="1059.500" width="67" height="24.500" rx=".6" class="pag"/><text x="2588.500" y="1072">Página Documentación</text></g>
<g id="h-sube2"><path d="M2701 1048.500L2714 1031H2740L2753 1048.500L2740 1066H2714Z" class="hex"/><text x="2727" y="1045">¿Sube los</text><text x="2727" y="1052">documentos?</text></g>
<g id="e-sube2"><rect x="2695" y="1092.500" width="64" height="22.500" rx=".6" class="err"/><text x="2727" y="1100.500">Sube todos los</text><text x="2727" y="1107">documentos</text></g>
<g id="pan-banco2"><rect x="2785" y="1023" width="97" height="101" class="pan"/><text x="2833.500" y="1035.500">Necesitamos una cuenta</text><text x="2833.500" y="1042">bancaria a tu nombre</text>
<rect x="2793" y="1051" width="82" height="7" class="in"/><text x="2795" y="1055" class="f">Banco</text>
<rect x="2793" y="1061" width="82" height="7" class="in"/><text x="2795" y="1065" class="f">Moneda</text>
<rect x="2793" y="1071" width="82" height="7" class="in"/><text x="2795" y="1075" class="f">Número de cuenta</text>
<rect x="2793" y="1081" width="82" height="7" class="in"/><text x="2795" y="1085" class="f">CCI</text>
<rect x="2793" y="1091" width="82" height="7" class="in"/><text x="2795" y="1095" class="f">Documento de banco (Encabezado)</text>
<rect x="2836.500" y="1107" width="38.500" height="8" class="btn"/><text x="2855.700" y="1111" class="w">Guardar</text>
<rect x="2800" y="1001.500" width="67.500" height="25" rx=".6" class="pag"/><text x="2833.500" y="1014.300">Página Cuenta bancaria</text></g>
<g id="h-campos7"><path d="M2917.500 1040.500L2931 1023H2957L2970 1040.500L2957 1058H2931Z" class="hex"/><text x="2944" y="1034.500">¿Llena todos los</text><text x="2944" y="1041">campos de</text><text x="2944" y="1047.500">información?</text></g>
<g id="e-campos7"><rect x="2911.500" y="1084" width="64.500" height="22.500" rx=".6" class="err"/><text x="2944" y="1096">Llena todos los campos</text></g>
<g id="n-verif2"><rect x="2922.500" y="956" width="58" height="22.500" rx="1" class="ntf"/><rect x="2931" y="951" width="41" height="7.500" rx="3.700" class="tag"/><rect x="2935" y="953.200" width="3.600" height="3.200" class="ico"/><text x="2941" y="954.800" class="s">NOTIFICACIÓN</text><text x="2951.500" y="965.500" class="nt">"Estamos verificando</text><text x="2951.500" y="972" class="nt">tu cuenta"</text></g>
<g id="pan-listo2"><rect x="3000" y="1013.500" width="83" height="61.500" class="pan"/><text x="3041.500" y="1025">Listo has completado tu registro</text><text x="3041.500" y="1037">Recibirás una respuesta en las</text><text x="3041.500" y="1043">próximas 12 horas hábiles.</text><rect x="3024.500" y="1058" width="34" height="8" class="btn"/><text x="3041.500" y="1062" class="w" style="font-size:3.500px">Entendido</text></g>
<g id="s-dash"><rect x="3008" y="1095.500" width="67.500" height="24.500" rx=".6" class="pag"/><text x="3041.500" y="1108">Dashboard</text></g>

<g id="etapas">
<path d="M306 813V828M306 820.700L1496 828.300M1496 821V836" class="rule"/>
<text x="932" y="857" class="big" style="font-size:22.800px">Subir operación</text>
<path d="M2482.500 320V327M2482.500 323.300H2953.500M2953.500 320V327" class="rule"/>
<text x="2718" y="302.700" class="big" style="font-size:13.500px">Revisión de usuario</text>
<path d="M1496 1195V1209M1496 1202H3043M3043 1195V1209" class="rule"/>
<text x="2267" y="1239" class="big" style="font-size:22.800px">Onboarding</text>
</g>

<g id="conectores">
<path class="cn cg" d="M68 58H82"/>
<path class="cn cg" d="M128 82V69"/>
<path class="cn cg" d="M128 142V132"/>
<path class="cn cg" d="M128 132H105.500V120" style="marker-start:none"/>
<path class="cn cg" d="M128 132H148.500V120" style="marker-start:none"/>
<path class="cn cg" d="M128 233V250"/>
<path class="cn cg" d="M128 273V292"/>
<path class="cn cr" d="M128 333V351"/>
<path class="cn cu" d="M89 366C50 350 28 290 28 240C28 190 40 158 74 158"/>
<path class="cn cv" d="M160 312.500H237V291Q237 286 242 286H258"/>
<path class="cn cv" d="M237 312.500V334.500Q237 339.500 242 339.500H258" style="marker-start:none"/>
<path class="cn cd" d="M199 307C199 285 213 290 213 272"/>
<path class="cn co" d="M304 286H330"/>
<path class="cn cp" d="M304 339.500H330"/>
<path class="cn co" d="M361 270V213"/>
<path class="cn co" d="M393 200.500H407"/>
<path class="cn co" d="M494 200.500H511"/>
<path class="cn co" d="M558 197.700H634Q637.500 197.700 637.500 194V104Q637.500 100.300 641 100.300H717.500"/>
<path class="cn cp" d="M361.500 352V365"/>
<path class="cn cp" d="M387.500 427V440"/>
<path class="cn cp" d="M420 452H433"/>
<path class="cn cp" d="M493 452H507"/>
<path class="cn cp" d="M329.500 427V502Q329.500 505.700 333 505.700L507 511.400"/>
<path class="cn cp" d="M580.500 451.500H630Q633.500 451.500 633.500 455V464"/>
<path class="cn cp" d="M580.500 506H630Q633.500 506 633.500 502.500V492"/>
<path class="cn cp" d="M681 478.500H694"/>
<path class="cn cr" d="M724.500 499V518"/>
<path class="cn cv" d="M754 478.500H777"/>
<path class="cn cv" d="M836.500 478.500H859.500"/>
<path class="cn cr" d="M807 499V527"/>
<path class="cn cp" d="M807 558.500V571"/>
<path class="cn cp" d="M844 584H902"/>
<path class="cn cp" d="M937 505V553"/>
<path class="cn cp" d="M1014 607.500H1028"/>
<path class="cn cp" d="M1101 607.500H1115"/>
<path class="cn cp" d="M1152 619V632"/>
<path class="cn cr" d="M1152 674V692"/>
<path class="cn cv" d="M1182 653.500H1205"/>
<path class="cn cp" d="M1294 653H1308"/>
<path class="cn cp" d="M1267 679V713Q1267 716.500 1270.500 716.500H1308"/>
<path class="cn cp" d="M1430 730.500H1451"/>
<path class="cn cp" d="M1533.500 751H1555"/>
<path class="cn cu" d="M685 532C640 535 570 545 540 544C510 543 480 525 480 500C480 480 490 482 500 480C510 478 515 475 518.500 471" style="stroke:#7f88a0;stroke-width:.8"/>
<path class="cn cu" d="M480 498C482 480 505 482 518.500 488" style="stroke:#7f88a0;stroke-width:.8;marker-start:none"/>
<path class="cn cu" d="M883 505C880 590 850 654 737 654C640 650 540 620 518 570C510 550 512 535 518 526" style="stroke:#c8ccd6"/>
<path class="cn cu" d="M1334 738C1328 755 1270 764 1182 764C1130 764 1080 758 1040 755C960 745 880 720 830 690C790 660 762 620 762 580C762 572 765 565 770 559" style="stroke:#8db0f6"/>
<path class="cn cu" d="M1113.500 707.500C1090 705 1070 690 1065 625"/>
<path class="cn cv" d="M783 102.500H824"/>
<path class="cn cr" d="M753.500 123V141"/>
<path class="cn cu" d="M753.500 175C748 185 735 185 730 184.500C712 184 700 170 700.500 152C701 135 712 122 726 114"/>
<path class="cn co" d="M905.500 189.500H927"/>
<path class="cn co" d="M1024 197.500H1045"/>
<path class="cn co" d="M953.500 205V295.500Q953.500 299 957 299H1045"/>
<path class="cn co" d="M1150 226H1161Q1164.500 226 1164.500 222.500V170.800Q1164.500 167.300 1168 167.300H1180"/>
<path class="cn co" d="M1279 195.500H1313"/>
<path class="cn co" d="M1417 262H1427.500Q1431 262 1431 258.500V176Q1431 172.500 1434.500 172.500H1447"/>
<path class="cn cv" d="M1508 172H1530"/>
<path class="cn cr" d="M1478 193V212"/>
<path class="cn cu" d="M1478 245C1470 280 1420 292.500 1400 292.500C1385 292.500 1370 290 1367 279"/>
<path class="cn co" d="M1191.400 232.700V311.800Q1191.400 315.300 1195 315.300H1530"/>
<path class="cn co" d="M1124 341.500V399Q1124 402.500 1127.500 402.500H1986.500"/>
<path class="cn co" d="M1648 227.700H1691.500Q1695 227.700 1695 231V255.500Q1695 259 1698.500 259H1737"/>
<path class="cn co" d="M1648 348.300H1691.500Q1695 348.300 1695 344.800V259" style="marker-end:none"/>
<path class="cn co" d="M1842 291H1865.500Q1869 291 1869 287.500V254Q1869 250.500 1872.500 250.500H1898"/>
<path class="cn cv" d="M1961 252H2045Q2048.500 252 2048.500 255.500V334"/>
<path class="cn cr" d="M1929 272V290"/>
<path class="cn cu" d="M1929 326C1925 340 1880 349 1858 349C1830 349 1796 340 1791 313"/>
<path class="cn co" d="M2099 449.500H2107.500Q2111 449.500 2111 446V384Q2111 380.500 2114.500 380.500H2125"/>
<path class="cn cv" d="M2188 381H2210"/>
<path class="cn cr" d="M2158 401V419"/>
<path class="cn cu" d="M2158 454C2155 475 2130 495 2105 495C2095 495 2078 490 2074 472"/>
<path class="cn cd" d="M2240 313C2240 345 2199 325 2199 374"/>
<path class="cn co" d="M2255.500 418V431"/>
<path class="cn cb" d="M2303 381H2470"/><rect x="2301.500" y="379.500" width="3" height="3" fill="#fff" stroke="#2f6ff2" stroke-width=".6"/>
<path class="cn cb" d="M2569 381H2593"/><circle cx="2568" cy="381" r="1.500" fill="#fff" stroke="#2f6ff2" stroke-width=".6"/>
<path class="cn cb" d="M2760 381H2776"/><circle cx="2760" cy="381" r="1.500" fill="#fff" stroke="#2f6ff2" stroke-width=".6"/>
<path class="cn cv" d="M2653 381H2675"/>
<path class="cn cv" d="M2836 381H2859"/>
<path class="cn cr" d="M2623 402V419"/>
<path class="cn cr" d="M2806 402V419"/>
<path class="cn cd" d="M2958 340.500C2900 342 2850 345 2847 372"/>
<path class="cn cb" d="M3043 1003V620Q3043 617 3040 617H2526.500Q2523.500 617 2523.500 614V408"/><rect x="3041.500" y="1001.500" width="3" height="3" fill="#fff" stroke="#2f6ff2" stroke-width=".6"/>
<path class="cn cv" d="M1615 752H1655"/>
<path class="cn cr" d="M1585 773V791"/>
<path class="cn cu" d="M1585 825C1578 835 1565 834.500 1560 834C1545 832 1532 820 1532 803C1532 785 1545 772 1558 764"/>
<path class="cn cp" d="M1737 839H1758"/>
<path class="cn cp" d="M1856 906.500H1878"/>
<path class="cn cv" d="M1937.500 906.500H1978"/>
<path class="cn cr" d="M1908 927V1110.500Q1908 1114 1911.500 1114H2536"/>
<path class="cn cp" d="M2073 921H2111"/>
<path class="cn cp" d="M2209 985H2222.500Q2226 985 2226 981.500V898.500Q2226 895 2229.500 895H2244"/>
<path class="cn cv" d="M2306 896H2329"/>
<path class="cn cr" d="M2276 916V934"/>
<path class="cn cu" d="M2276 969C2270 1000 2215 1016.500 2200 1016.500C2185 1016.500 2170 1012 2165 1003"/>
<path class="cn cr" d="M1989 957V1036Q1989 1039.400 1992.500 1039.400H2328"/>
<path class="cn cp" d="M2446 951H2487Q2490.500 951 2490.500 954.500V979Q2490.500 982.500 2494 982.500H2536"/>
<path class="cn cp" d="M2446 1072H2487Q2490.500 1072 2490.500 1068.500V982.500" style="marker-end:none"/>
<path class="cn cp" d="M2640 1016.700H2664.500Q2668 1016.700 2668 1020V1045Q2668 1048.700 2671.500 1048.700H2698"/>
<path class="cn cp" d="M2640 1138H2664.500Q2668 1138 2668 1134.500V1048.700" style="marker-end:none"/>
<path class="cn cv" d="M2758 1049H2781.500"/>
<path class="cn cr" d="M2727 1069V1087"/>
<path class="cn cu" d="M2727 1123C2722 1138 2705 1140 2700 1139C2675 1135 2665 1110 2658 1085C2650 1060 2625 1060 2616 1033"/>
<path class="cn cu" d="M2727 1123C2715 1150 2680 1170.500 2650 1170.500C2635 1170.500 2620 1165 2616 1155"/>
<path class="cn cp" d="M2885 1111.500H2895.500Q2899 1111.500 2899 1108V1045Q2899 1041.500 2902.500 1041.500H2913"/>
<path class="cn cv" d="M2973.500 1041H2996"/>
<path class="cn cr" d="M2944 1061V1079"/>
<path class="cn cu" d="M2944 1114C2940 1135 2910 1153 2895 1153C2880 1153 2862 1145 2860 1131"/>
<path class="cn cd" d="M2951.500 983C2951.500 1015 2985 1000 2985 1034"/>
<path class="cn cp" d="M3041 1079V1092"/>
</g>

<g id="etiquetas">
<rect x="195" y="310" width="10" height="6" rx="3" class="pv"/><text x="200" y="313" class="pg">Sí</text>
<rect x="123" y="339" width="10" height="6" rx="3" class="pr"/><text x="128" y="342" class="py">No</text>
<rect x="799" y="99.500" width="10" height="6" rx="3" class="pv"/><text x="804" y="102.500" class="pg">Sí</text>
<rect x="748.500" y="130" width="10" height="6" rx="3" class="pr"/><text x="753.500" y="133" class="py">No</text>
<rect x="1514.500" y="169" width="10" height="6" rx="3" class="pv"/><text x="1519.500" y="172" class="pg">Sí</text>
<rect x="1473" y="199.500" width="10" height="6" rx="3" class="pr"/><text x="1478" y="202.500" class="py">No</text>
<rect x="2000.500" y="249" width="10" height="6" rx="3" class="pv"/><text x="2005.500" y="252" class="pg">Sí</text>
<rect x="1924" y="278.500" width="10" height="6" rx="3" class="pr"/><text x="1929" y="281.500" class="py">No</text>
<rect x="2194" y="378" width="10" height="6" rx="3" class="pv"/><text x="2199" y="381" class="pg">Sí</text>
<rect x="2153" y="408" width="10" height="6" rx="3" class="pr"/><text x="2158" y="411" class="py">No</text>
<rect x="2659.500" y="378" width="10" height="6" rx="3" class="pv"/><text x="2664.500" y="381" class="pg">Sí</text>
<rect x="2843" y="378" width="10" height="6" rx="3" class="pv"/><text x="2848" y="381" class="pg">Sí</text>
<rect x="2618" y="408" width="10" height="6" rx="3" class="pr"/><text x="2623" y="411" class="py">No</text>
<rect x="2801" y="408" width="10" height="6" rx="3" class="pr"/><text x="2806" y="411" class="py">No</text>
<rect x="719.500" y="506" width="10" height="6" rx="3" class="pr"/><text x="724.500" y="509" class="py">No</text>
<rect x="761" y="475.500" width="10" height="6" rx="3" class="pv"/><text x="766" y="478.500" class="pg">Sí</text>
<rect x="843" y="475.500" width="10" height="6" rx="3" class="pv"/><text x="848" y="478.500" class="pg">Sí</text>
<rect x="802" y="511" width="10" height="6" rx="3" class="pr"/><text x="807" y="514" class="py">No</text>
<rect x="1188.500" y="650.500" width="10" height="6" rx="3" class="pv"/><text x="1193.500" y="653.500" class="pg">Sí</text>
<rect x="1147" y="681" width="10" height="6" rx="3" class="pr"/><text x="1152" y="684" class="py">No</text>
<rect x="1630.500" y="749" width="10" height="6" rx="3" class="pv"/><text x="1635.500" y="752" class="pg">Sí</text>
<rect x="1580" y="779.500" width="10" height="6" rx="3" class="pr"/><text x="1585" y="782.500" class="py">No</text>
<rect x="1953" y="903.500" width="10" height="6" rx="3" class="pv"/><text x="1958" y="906.500" class="pg">Sí</text>
<rect x="1903" y="1007" width="10" height="6" rx="3" class="pr"/><text x="1908" y="1010" class="py">No</text>
<rect x="2312" y="893" width="10" height="6" rx="3" class="pv"/><text x="2317" y="896" class="pg">Sí</text>
<rect x="2271" y="923" width="10" height="6" rx="3" class="pr"/><text x="2276" y="926" class="py">No</text>
<rect x="2765" y="1046" width="10" height="6" rx="3" class="pv"/><text x="2770" y="1049" class="pg">Sí</text>
<rect x="2722" y="1076" width="10" height="6" rx="3" class="pr"/><text x="2727" y="1079" class="py">No</text>
<rect x="2980" y="1038" width="10" height="6" rx="3" class="pv"/><text x="2985" y="1041" class="pg">Sí</text>
<rect x="2939" y="1068" width="10" height="6" rx="3" class="pr"/><text x="2944" y="1071" class="py">No</text>
</g>
</svg>
